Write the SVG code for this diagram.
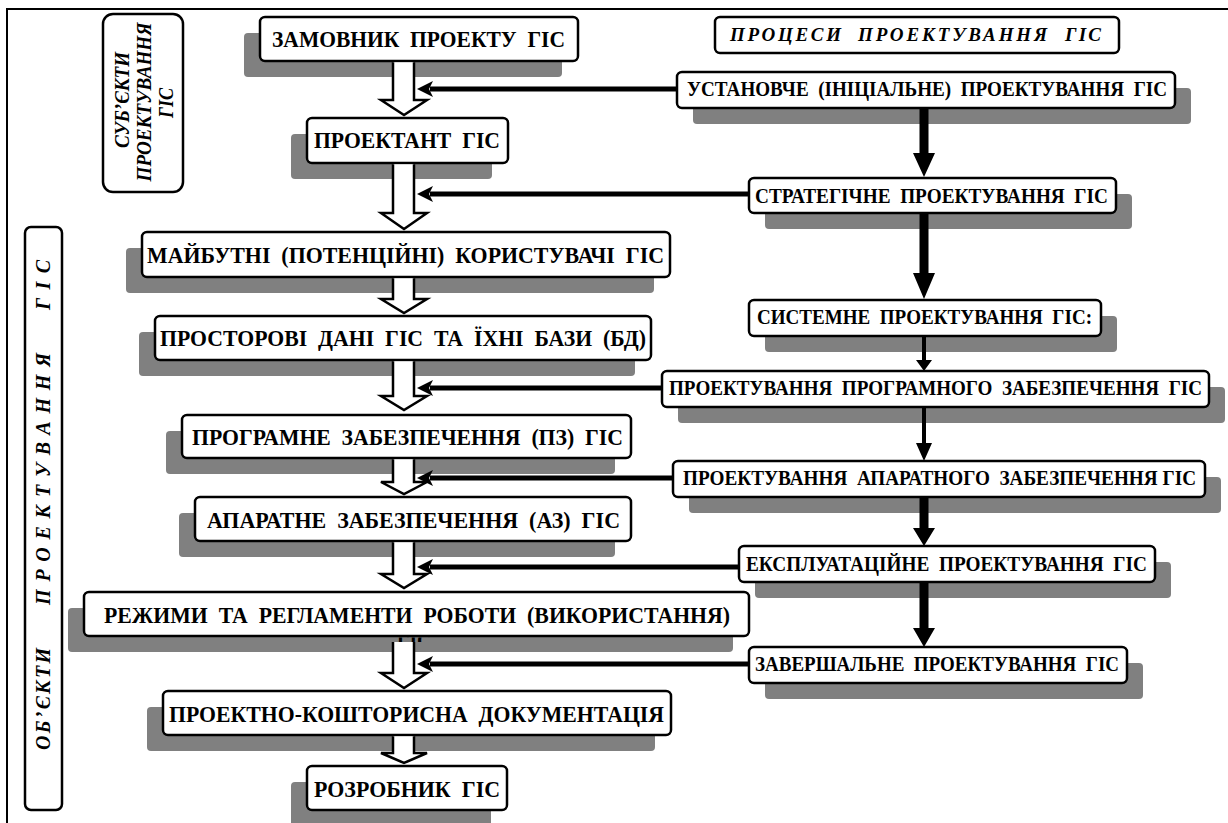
<svg xmlns="http://www.w3.org/2000/svg" width="1228" height="823" viewBox="0 0 1228 823">
<defs>
<style>
.box{fill:#fff;stroke:#000;stroke-width:2.5}
.sh{fill:#808080}
.t{font-family:"Liberation Serif","Times New Roman",serif;font-weight:bold;fill:#000}
.tl{font-size:23px}
.tr{font-size:20px}
.ti{font-style:italic;font-size:20px}
.hol{fill:#fff;stroke:#000;stroke-width:2.5;stroke-linejoin:miter}
.conn{stroke:#000;stroke-width:5;fill:none}
.head{fill:#000}
.frame{stroke:#000;stroke-width:2;fill:none}
</style>
<clipPath id="clipG" clipPathUnits="userSpaceOnUse"><rect x="390" y="637.5" width="50" height="4.5"/></clipPath>
</defs>
<rect width="1228" height="823" fill="#fff"/>
<path class="frame" d="M7,823 L7,9 L1228,9"/>

<g id="subjects">
<rect class="box" x="103" y="14" width="80" height="178" rx="10"/>
<text class="t ti" transform="translate(129,100) rotate(-90)" text-anchor="middle" textLength="96" lengthAdjust="spacingAndGlyphs">СУБ’ЄКТИ</text>
<text class="t ti" transform="translate(151,102) rotate(-90)" text-anchor="middle" textLength="159" lengthAdjust="spacingAndGlyphs">ПРОЕКТУВАННЯ</text>
<text class="t ti" transform="translate(173,103) rotate(-90)" text-anchor="middle" textLength="30" lengthAdjust="spacingAndGlyphs">ГІС</text>
</g>

<g id="objects">
<rect class="box" x="25" y="227" width="37" height="583" rx="6"/>
<text class="t ti" transform="translate(50,750) rotate(-90)" textLength="102" lengthAdjust="spacing">ОБ’ЄКТИ</text>
<text class="t ti" transform="translate(50,605) rotate(-90)" textLength="252" lengthAdjust="spacing">ПРОЕКТУВАННЯ</text>
<text class="t ti" transform="translate(50,310) rotate(-90)" textLength="50" lengthAdjust="spacing">ГІС</text>
</g>

<g id="title">
<rect class="box" x="715" y="17" width="404" height="36" rx="5"/>
<text class="t ti" style="font-size:19px" x="730" y="41" textLength="111" lengthAdjust="spacing">ПРОЦЕСИ</text>
<text class="t ti" style="font-size:19px" x="858" y="41" textLength="189" lengthAdjust="spacing">ПРОЕКТУВАННЯ</text>
<text class="t ti" style="font-size:19px" x="1065" y="41" textLength="36" lengthAdjust="spacing">ГІС</text>
</g>

<g id="n1">
<rect class="sh" x="244" y="33" width="318" height="44" rx="4"/>
<rect class="box" x="260" y="17" width="318" height="44" rx="5"/>
<text class="t tl" x="272" y="47" textLength="293" lengthAdjust="spacingAndGlyphs">ЗАМОВНИК&#160; ПРОЕКТУ&#160; ГІС</text>
</g>
<g id="n2">
<rect class="sh" x="291" y="134" width="201" height="45" rx="4"/>
<rect class="box" x="307" y="118" width="201" height="45" rx="5"/>
<text class="t tl" x="314" y="148" textLength="186" lengthAdjust="spacingAndGlyphs">ПРОЕКТАНТ&#160; ГІС</text>
</g>
<g id="n3">
<rect class="sh" x="126" y="248" width="528" height="45" rx="4"/>
<rect class="box" x="142" y="232" width="528" height="45" rx="5"/>
<text class="t tl" x="147" y="263" textLength="517" lengthAdjust="spacingAndGlyphs">МАЙБУТНІ&#160; (ПОТЕНЦІЙНІ)&#160; КОРИСТУВАЧІ&#160; ГІС</text>
</g>
<g id="n4">
<rect class="sh" x="139" y="332" width="496" height="44" rx="4"/>
<rect class="box" x="155" y="316" width="496" height="44" rx="5"/>
<text class="t tl" x="160" y="346" textLength="486" lengthAdjust="spacingAndGlyphs">ПРОСТОРОВІ&#160; ДАНІ&#160; ГІС&#160; ТА&#160; ЇХНІ&#160; БАЗИ&#160; (БД)</text>
</g>
<g id="n5">
<rect class="sh" x="166" y="431" width="449" height="43" rx="4"/>
<rect class="box" x="182" y="415" width="449" height="43" rx="5"/>
<text class="t tl" x="192" y="445" textLength="431" lengthAdjust="spacingAndGlyphs">ПРОГРАМНЕ&#160; ЗАБЕЗПЕЧЕННЯ&#160; (ПЗ)&#160; ГІС</text>
</g>
<g id="n6">
<rect class="sh" x="179" y="513" width="436" height="44" rx="4"/>
<rect class="box" x="195" y="497" width="436" height="44" rx="5"/>
<text class="t tl" x="207" y="528" textLength="413" lengthAdjust="spacingAndGlyphs">АПАРАТНЕ&#160; ЗАБЕЗПЕЧЕННЯ&#160; (АЗ)&#160; ГІС</text>
</g>
<g id="n7">
<rect class="sh" x="68" y="608" width="665" height="44" rx="4"/>
<rect class="box" x="84" y="592" width="665" height="44" rx="5"/>
<text class="t tl" x="104" y="623" textLength="626" lengthAdjust="spacingAndGlyphs">РЕЖИМИ&#160; ТА&#160; РЕГЛАМЕНТИ&#160; РОБОТИ&#160; (ВИКОРИСТАННЯ)</text>
<text class="t tl" x="397" y="648" textLength="34" lengthAdjust="spacingAndGlyphs" clip-path="url(#clipG)">ГІС</text>
</g>
<g id="n8">
<rect class="sh" x="147" y="707" width="508" height="44" rx="4"/>
<rect class="box" x="163" y="691" width="508" height="44" rx="5"/>
<text class="t tl" x="169" y="722" textLength="495" lengthAdjust="spacingAndGlyphs">ПРОЕКТНО-КОШТОРИСНА&#160; ДОКУМЕНТАЦІЯ</text>
</g>
<g id="n9">
<rect class="sh" x="291" y="782" width="200" height="44" rx="4"/>
<rect class="box" x="307" y="766" width="200" height="44" rx="5"/>
<text class="t tl" x="314" y="797" textLength="186" lengthAdjust="spacingAndGlyphs">РОЗРОБНИК&#160; ГІС</text>
</g>

<g id="r1">
<rect class="sh" x="693" y="88" width="498" height="36" rx="4"/>
<rect class="box" x="677" y="72" width="498" height="36" rx="5"/>
<text class="t tr" x="687" y="96" textLength="480" lengthAdjust="spacingAndGlyphs">УСТАНОВЧЕ&#160; (ІНІЦІАЛЬНЕ)&#160; ПРОЕКТУВАННЯ&#160; ГІС</text>
</g>
<g id="r2">
<rect class="sh" x="765" y="194" width="367" height="35" rx="4"/>
<rect class="box" x="749" y="178" width="367" height="35" rx="5"/>
<text class="t tr" x="755" y="203" textLength="353" lengthAdjust="spacingAndGlyphs">СТРАТЕГІЧНЕ&#160; ПРОЕКТУВАННЯ&#160; ГІС</text>
</g>
<g id="r3">
<rect class="sh" x="765" y="316" width="352" height="36" rx="4"/>
<rect class="box" x="749" y="300" width="352" height="36" rx="5"/>
<text class="t tr" x="757" y="324" textLength="335" lengthAdjust="spacingAndGlyphs">СИСТЕМНЕ&#160; ПРОЕКТУВАННЯ&#160; ГІС:</text>
</g>
<g id="r4">
<rect class="sh" x="678" y="387" width="547" height="36" rx="4"/>
<rect class="box" x="662" y="371" width="547" height="36" rx="5"/>
<text class="t tr" x="669" y="395" textLength="533" lengthAdjust="spacingAndGlyphs">ПРОЕКТУВАННЯ&#160; ПРОГРАМНОГО&#160; ЗАБЕЗПЕЧЕННЯ&#160; ГІС</text>
</g>
<g id="r5">
<rect class="sh" x="689" y="477" width="532" height="36" rx="4"/>
<rect class="box" x="673" y="461" width="532" height="36" rx="5"/>
<text class="t tr" x="683" y="485" textLength="513" lengthAdjust="spacingAndGlyphs">ПРОЕКТУВАННЯ&#160; АПАРАТНОГО&#160; ЗАБЕЗПЕЧЕННЯ ГІС</text>
</g>
<g id="r6">
<rect class="sh" x="755" y="562" width="416" height="36" rx="4"/>
<rect class="box" x="739" y="546" width="416" height="36" rx="5"/>
<text class="t tr" x="746" y="571" textLength="401" lengthAdjust="spacingAndGlyphs">ЕКСПЛУАТАЦІЙНЕ&#160; ПРОЕКТУВАННЯ&#160; ГІС</text>
</g>
<g id="r7">
<rect class="sh" x="765" y="663" width="378" height="36" rx="4"/>
<rect class="box" x="749" y="647" width="378" height="36" rx="5"/>
<text class="t tr" x="755" y="671" textLength="364" lengthAdjust="spacingAndGlyphs">ЗАВЕРШАЛЬНЕ&#160; ПРОЕКТУВАННЯ&#160; ГІС</text>
</g>

<g id="connectors">
<path class="hol" d="M393,62.3 L393,100 L381,100 L404,115 L427,100 L414,100 L414,62.3"/>
<path class="hol" d="M393,164.3 L393,213 L381,213 L404,229 L427,213 L414,213 L414,164.3"/>
<path class="hol" d="M393,278.3 L393,299 L381,299 L404,313 L427,299 L414,299 L414,278.3"/>
<path class="hol" d="M393,361.3 L393,396 L381,396 L404,410 L427,396 L414,396 L414,361.3"/>
<path class="hol" d="M393,459.3 L393,482 L381,482 L404,494 L427,482 L414,482 L414,459.3"/>
<path class="hol" d="M393,542.3 L393,574 L381,574 L404,588 L427,574 L414,574 L414,542.3"/>
<path class="hol" d="M393,642 L393,673 L381,673 L404,688 L427,673 L414,673 L414,642"/>
<path class="hol" d="M393,736.3 L393,753 L381,753 L404,763 L427,753 L414,753 L414,736.3"/>
<line class="conn" x1="677" y1="89" x2="430" y2="89"/>
<path class="head" d="M417,89 L433,81 L429,89 L433,97 Z"/>
<line class="conn" x1="749" y1="194" x2="430" y2="194"/>
<path class="head" d="M417,194 L433,186 L429,194 L433,202 Z"/>
<line class="conn" x1="662" y1="388" x2="430" y2="388"/>
<path class="head" d="M417,388 L433,380 L429,388 L433,396 Z"/>
<line class="conn" x1="673" y1="478" x2="430" y2="478"/>
<path class="head" d="M417,478 L433,470 L429,478 L433,486 Z"/>
<line class="conn" x1="739" y1="567" x2="430" y2="567"/>
<path class="head" d="M417,567 L433,559 L429,567 L433,575 Z"/>
<line class="conn" x1="749" y1="664" x2="430" y2="664"/>
<path class="head" d="M417,664 L433,656 L429,664 L433,672 Z"/>
<polygon class="head" points="919.5,108 928.5,108 928.5,153 935,153 924,177 913,153 919.5,153"/>
<polygon class="head" points="919.5,213 928.5,213 928.5,273 935,273 924,299 913,273 919.5,273"/>
<polygon class="head" points="922,336 926,336 926,360 932,360 924,371 916,360 922,360"/>
<polygon class="head" points="922,407 926,407 926,443 932,443 924,461 916,443 922,443"/>
<polygon class="head" points="919.5,497 928.5,497 928.5,528 935,528 924,546 913,528 919.5,528"/>
<polygon class="head" points="919.5,582 928.5,582 928.5,628 935,628 924,647 913,628 919.5,628"/>
</g>
</svg>
